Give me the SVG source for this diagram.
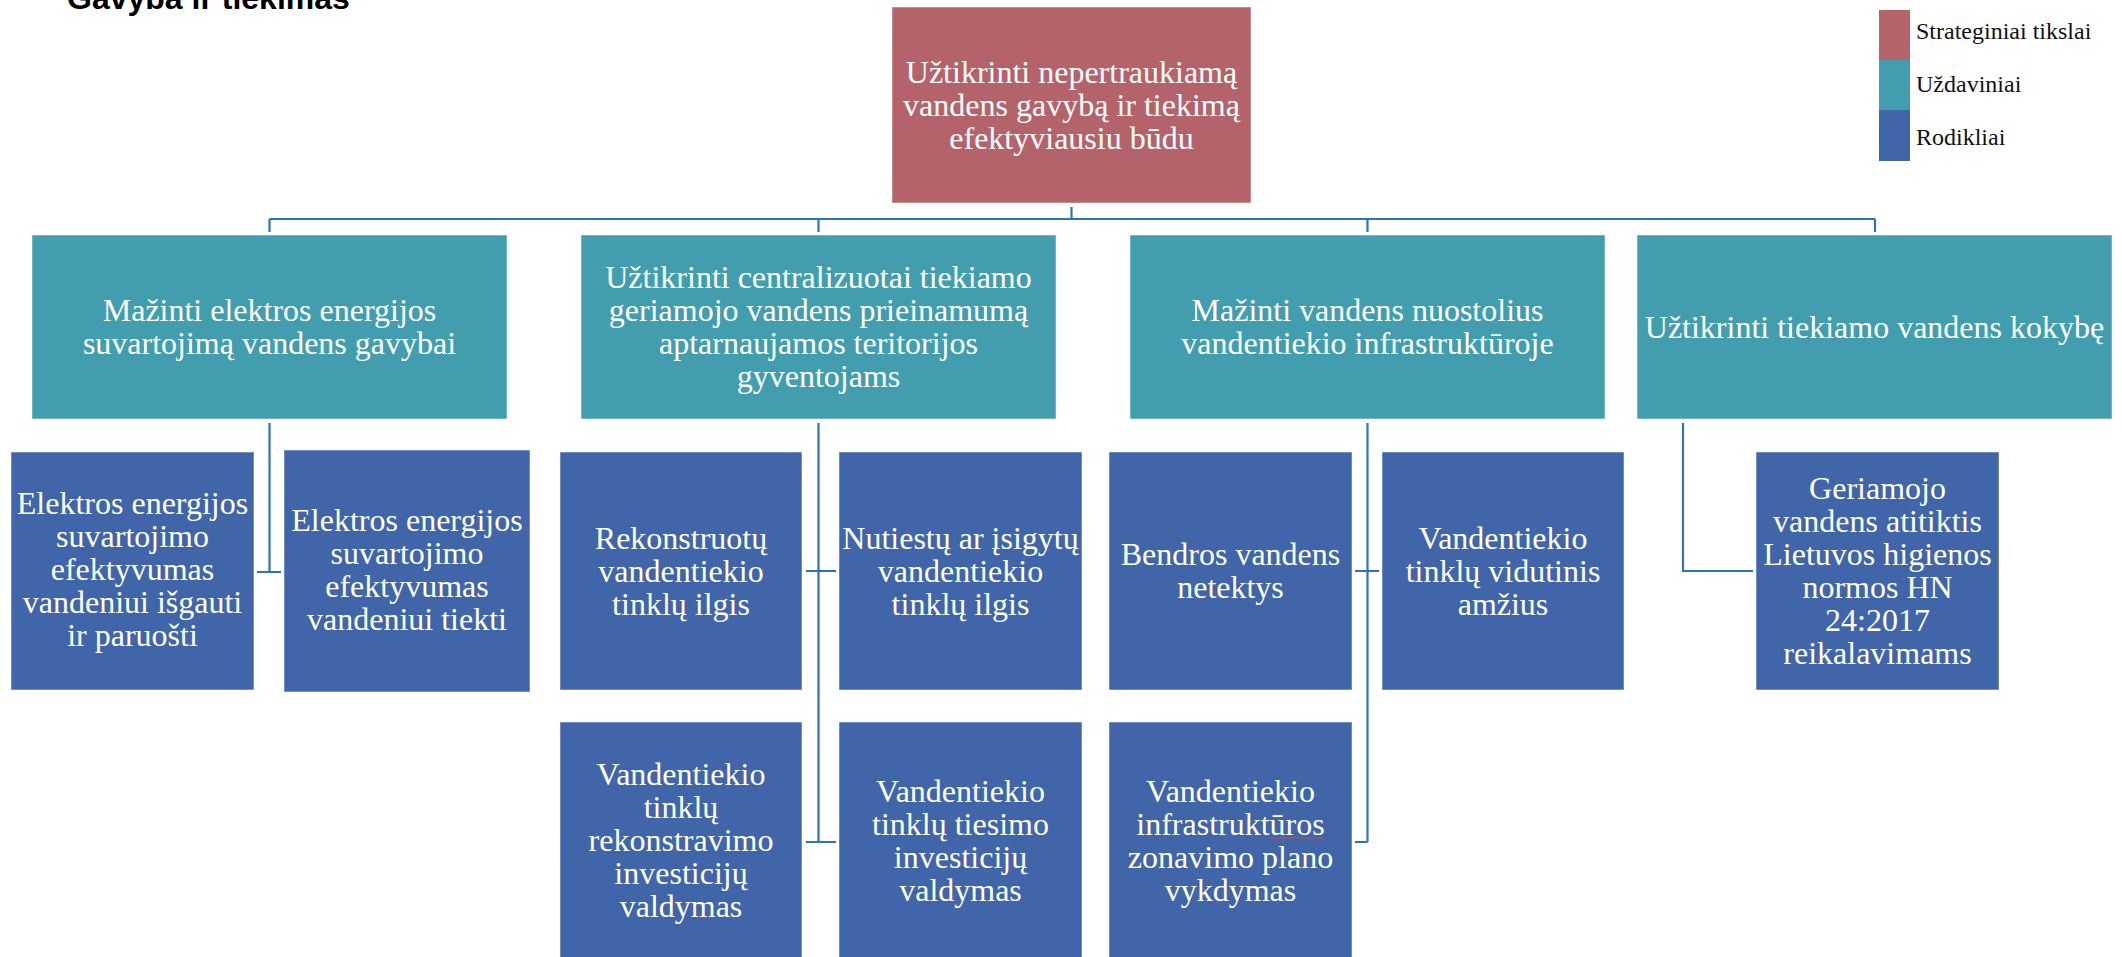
<svg xmlns="http://www.w3.org/2000/svg" width="2122" height="957" viewBox="0 0 2122 957">
<style>
.n{stroke:#ffffff;stroke-opacity:0.5;stroke-width:1}
.s{fill:#B5636A}
.t{fill:#429EAF}
.b{fill:#4065A8}
.tx{font-family:"Liberation Serif","Times New Roman",serif;font-size:32px;fill:#ffffff;text-anchor:middle}
.lg{font-family:"Liberation Serif","Times New Roman",serif;font-size:24px;fill:#111111}
.c{fill:none;stroke:#2E74B5;stroke-width:2.2}
</style>
<rect width="2122" height="957" fill="#ffffff"/>
<text x="67" y="9" font-family="'Liberation Sans',Arial,sans-serif" font-size="32" font-weight="bold" fill="#000">Gavyba ir tiekimas</text>

<g id="connectors">
<path class="c" d="M1071.5 207V219M269.5 219H1875M269.5 219V232M818.5 219V232M1367.5 219V232M1875 219V232"/>
<path class="c" d="M269.5 423V572M257 572H281"/>
<path class="c" d="M818.5 423V842M806 571H836M806 842H836"/>
<path class="c" d="M1367.5 423V842M1355 571H1379M1355 842H1367.5"/>
<path class="c" d="M1683 423V571H1753"/>
</g>

<g id="goal">
<rect class="n s" x="892" y="7" width="359" height="196"/>
<text class="tx"><tspan x="1071.5" y="82.5">Užtikrinti nepertraukiamą</tspan><tspan x="1071.5" y="115.5">vandens gavybą ir tiekimą</tspan><tspan x="1071.5" y="148.5">efektyviausiu būdu</tspan></text>
</g>

<g id="task1">
<rect class="n t" x="32" y="235" width="475" height="184"/>
<text class="tx"><tspan x="269.5" y="320.5">Mažinti elektros energijos</tspan><tspan x="269.5" y="353.5">suvartojimą vandens gavybai</tspan></text>
</g>
<g id="task2">
<rect class="n t" x="581" y="235" width="475" height="184"/>
<text class="tx"><tspan x="818.5" y="288">Užtikrinti centralizuotai tiekiamo</tspan><tspan x="818.5" y="321">geriamojo vandens prieinamumą</tspan><tspan x="818.5" y="354">aptarnaujamos teritorijos</tspan><tspan x="818.5" y="387">gyventojams</tspan></text>
</g>
<g id="task3">
<rect class="n t" x="1130" y="235" width="475" height="184"/>
<text class="tx"><tspan x="1367.5" y="320.5">Mažinti vandens nuostolius</tspan><tspan x="1367.5" y="353.5">vandentiekio infrastruktūroje</tspan></text>
</g>
<g id="task4">
<rect class="n t" x="1637" y="235" width="475" height="184"/>
<text class="tx"><tspan x="1874.5" y="337.5">Užtikrinti tiekiamo vandens kokybę</tspan></text>
</g>

<g id="ind1">
<rect class="n b" x="11" y="452" width="243" height="238"/>
<text class="tx"><tspan x="132.5" y="514">Elektros energijos</tspan><tspan x="132.5" y="547">suvartojimo</tspan><tspan x="132.5" y="580">efektyvumas</tspan><tspan x="132.5" y="613">vandeniui išgauti</tspan><tspan x="132.5" y="646">ir paruošti</tspan></text>
</g>
<g id="ind2">
<rect class="n b" x="284" y="450" width="246" height="242"/>
<text class="tx"><tspan x="407" y="531">Elektros energijos</tspan><tspan x="407" y="564">suvartojimo</tspan><tspan x="407" y="597">efektyvumas</tspan><tspan x="407" y="630">vandeniui tiekti</tspan></text>
</g>
<g id="ind3">
<rect class="n b" x="560" y="452" width="242" height="238"/>
<text class="tx"><tspan x="681" y="548.5">Rekonstruotų</tspan><tspan x="681" y="581.5">vandentiekio</tspan><tspan x="681" y="614.5">tinklų ilgis</tspan></text>
</g>
<g id="ind4">
<rect class="n b" x="839" y="452" width="243" height="238"/>
<text class="tx"><tspan x="960.5" y="548.5">Nutiestų ar įsigytų</tspan><tspan x="960.5" y="581.5">vandentiekio</tspan><tspan x="960.5" y="614.5">tinklų ilgis</tspan></text>
</g>
<g id="ind5">
<rect class="n b" x="560" y="722" width="242" height="240"/>
<text class="tx"><tspan x="681" y="785">Vandentiekio</tspan><tspan x="681" y="818">tinklų</tspan><tspan x="681" y="851">rekonstravimo</tspan><tspan x="681" y="884">investicijų</tspan><tspan x="681" y="917">valdymas</tspan></text>
</g>
<g id="ind6">
<rect class="n b" x="839" y="722" width="243" height="240"/>
<text class="tx"><tspan x="960.5" y="801.5">Vandentiekio</tspan><tspan x="960.5" y="834.5">tinklų tiesimo</tspan><tspan x="960.5" y="867.5">investicijų</tspan><tspan x="960.5" y="900.5">valdymas</tspan></text>
</g>
<g id="ind7">
<rect class="n b" x="1109" y="452" width="243" height="238"/>
<text class="tx"><tspan x="1230.5" y="565">Bendros vandens</tspan><tspan x="1230.5" y="598">netektys</tspan></text>
</g>
<g id="ind8">
<rect class="n b" x="1382" y="452" width="242" height="238"/>
<text class="tx"><tspan x="1503" y="548.5">Vandentiekio</tspan><tspan x="1503" y="581.5">tinklų vidutinis</tspan><tspan x="1503" y="614.5">amžius</tspan></text>
</g>
<g id="ind9">
<rect class="n b" x="1109" y="722" width="243" height="240"/>
<text class="tx"><tspan x="1230.5" y="801.5">Vandentiekio</tspan><tspan x="1230.5" y="834.5">infrastruktūros</tspan><tspan x="1230.5" y="867.5">zonavimo plano</tspan><tspan x="1230.5" y="900.5">vykdymas</tspan></text>
<line x1="1270" y1="838" x2="1324" y2="838" stroke="#C0504D" stroke-width="1"/>
</g>
<g id="ind10">
<rect class="n b" x="1756" y="452" width="243" height="238"/>
<text class="tx"><tspan x="1877.5" y="499">Geriamojo</tspan><tspan x="1877.5" y="532">vandens atitiktis</tspan><tspan x="1877.5" y="565">Lietuvos higienos</tspan><tspan x="1877.5" y="598">normos HN</tspan><tspan x="1877.5" y="631">24:2017</tspan><tspan x="1877.5" y="664">reikalavimams</tspan></text>
</g>

<g id="legend">
<rect x="1879" y="10" width="31" height="50" fill="#B5636A"/>
<rect x="1879" y="60" width="31" height="50" fill="#429EAF"/>
<rect x="1879" y="110" width="31" height="51" fill="#4065A8"/>
<text class="lg" x="1916" y="39">Strateginiai tikslai</text>
<text class="lg" x="1916" y="92">Uždaviniai</text>
<text class="lg" x="1916" y="145">Rodikliai</text>
</g>
</svg>
